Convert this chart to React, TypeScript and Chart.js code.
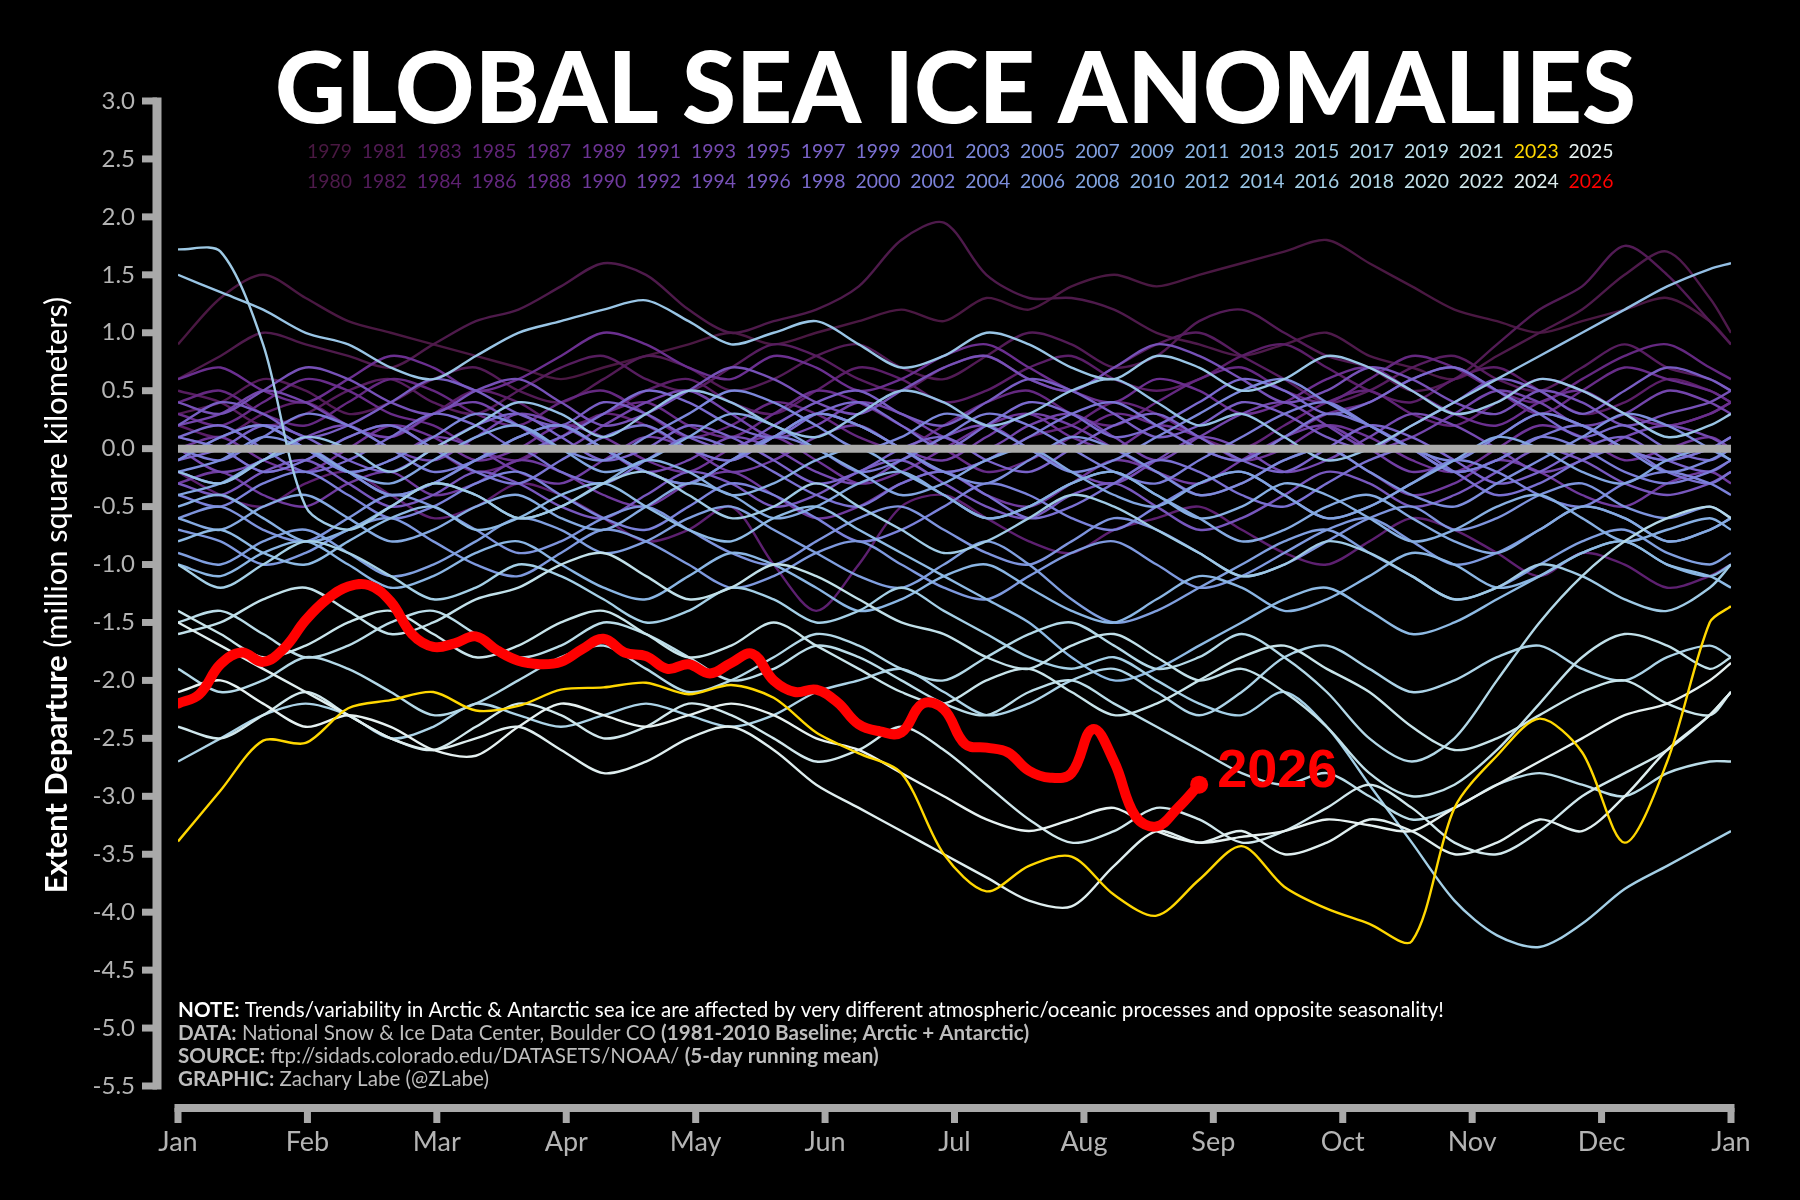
import React, { useEffect, useRef } from "react";
import { Chart, registerables } from "chart.js";

Chart.register(...registerables);

// ---------------- DATA ----------------
// month ticks are evenly spaced (12 equal parts of the 365-day year)
const monthTicks = [0, 30.42, 60.83, 91.25, 121.67, 152.08, 182.5, 212.92, 243.33, 273.75, 304.17, 334.58, 365];
const monthLabels = ["Jan", "Feb", "Mar", "Apr", "May", "Jun", "Jul", "Aug", "Sep", "Oct", "Nov", "Dec", "Jan"];
const yTickValues = [-5.5, -5.0, -4.5, -4.0, -3.5, -3.0, -2.5, -2.0, -1.5, -1.0, -0.5, 0.0, 0.5, 1.0, 1.5, 2.0, 2.5, 3.0];

// day-of-year sample positions for the climatology years (every 10 days)
const gridDays = [0, 10, 20, 30, 40, 50, 60, 70, 80, 90, 100, 110, 120, 130, 140, 150, 160, 170, 180, 190, 200, 210, 220, 230, 240, 250, 260, 270, 280, 290, 300, 310, 320, 330, 340, 350, 360, 365];
// day-of-year sample positions for 2026 (every 5 days, to Aug 28)
const days2026 = [0, 5, 10, 15, 20, 25, 30, 35, 40, 45, 50, 55, 60, 65, 70, 75, 80, 85, 90, 95, 100, 105, 110, 115, 120, 125, 130, 135, 140, 145, 150, 155, 160, 165, 170, 175, 180, 185, 190, 195, 200, 205, 210, 215, 220, 225, 230, 235, 240];

const y1979 = [0.9,1.3,1.5,1.3,1.1,1.0,0.9,0.8,0.7,0.6, 0.7,0.8,0.9,1.0,0.9,1.0,1.1,1.2,1.1,1.3, 1.2,1.4,1.5,1.4,1.5,1.6,1.7,1.8,1.6,1.4, 1.2,1.1,1.0,1.1,1.2,1.3,1.1,0.9];
const y1980 = [0.6,0.8,1.0,0.9,0.8,0.7,0.9,1.1,1.2,1.4, 1.6,1.5,1.2,1.0,1.1,1.2,1.4,1.8,1.95,1.5, 1.3,1.3,1.2,1.0,0.9,0.8,0.9,1.0,0.8,0.7, 0.6,0.8,1.0,1.2,1.5,1.7,1.3,1.0];
const y1981 = [0.3,0.4,0.6,0.5,0.3,0.4,0.6,0.7,0.5,0.4, 0.6,0.8,0.7,0.5,0.6,0.8,0.9,0.7,0.6,0.8, 1.0,0.9,0.7,0.8,1.1,1.2,1.0,0.8,0.7,0.5, 0.6,0.9,1.2,1.4,1.75,1.5,1.1,0.9];
const y1982 = [0.5,0.4,0.2,0.3,0.5,0.6,0.4,0.3,0.5,0.7, 0.8,0.6,0.5,0.7,0.9,0.8,0.6,0.5,0.7,0.8, 0.6,0.5,0.7,0.9,1.0,0.8,0.6,0.4,0.5,0.7, 0.8,0.6,0.5,0.7,0.9,0.7,0.6,0.5];
const y1983 = [0.2,0.1,0.3,0.4,0.2,0.1,0.3,0.5,0.4,0.2, 0.3,0.5,0.6,0.4,0.3,0.5,0.7,0.6,0.4,0.5, 0.7,0.8,0.6,0.5,0.6,0.8,0.9,0.7,0.5,0.4, 0.6,0.7,0.5,0.3,0.4,0.6,0.5,0.4];
const y1984 = [-0.2,-0.4,-0.5,-0.3,-0.2,-0.4,-0.6,-0.5,-0.3,-0.4, -0.6,-0.8,-0.7,-0.5,-1.0,-1.4,-1.0,-0.5,-0.4,-0.6, -0.8,-0.9,-0.7,-0.6,-0.5,-0.7,-0.9,-1.0,-0.8,-0.6, -0.7,-0.9,-1.1,-0.9,-1.0,-1.2,-1.1,-1.0];
const y1985 = [0.1,0.0,-0.2,-0.1,0.1,0.2,0.0,-0.2,-0.1,0.1, 0.3,0.2,0.0,-0.1,0.1,0.3,0.2,0.0,-0.2,-0.1, 0.1,0.2,0.4,0.3,0.1,0.0,0.2,0.4,0.5,0.3, 0.2,0.4,0.6,0.5,0.3,0.2,0.3,0.4];
const y1986 = [0.4,0.5,0.3,0.2,0.4,0.6,0.5,0.3,0.2,0.4, 0.5,0.3,0.1,0.2,0.4,0.3,0.1,0.0,0.2,0.4, 0.5,0.3,0.2,0.4,0.6,0.7,0.5,0.4,0.6,0.8, 0.7,0.5,0.4,0.6,0.8,0.9,0.7,0.6];
const y1987 = [0.3,0.2,0.4,0.6,0.5,0.3,0.2,0.0,-0.1,0.1, 0.3,0.4,0.2,0.1,0.3,0.5,0.4,0.2,0.0,-0.2, -0.1,0.1,0.3,0.2,0.0,-0.1,0.1,0.3,0.4,0.6, 0.7,0.5,0.3,0.5,0.7,0.6,0.5,0.4];
const y1988 = [0.6,0.7,0.5,0.4,0.6,0.8,0.7,0.5,0.6,0.8, 1.0,0.9,0.7,0.6,0.8,0.7,0.5,0.6,0.8,0.9, 0.7,0.5,0.4,0.6,0.5,0.3,0.4,0.6,0.7,0.5, 0.3,0.2,0.4,0.5,0.3,0.2,0.3,0.4];
const y1989 = [0.0,0.1,-0.1,-0.2,0.0,0.2,0.1,-0.1,0.0,0.2, 0.1,-0.1,-0.2,0.0,0.1,-0.1,-0.3,-0.2,0.0,0.2, 0.3,0.1,0.0,0.2,0.1,-0.1,0.0,0.2,0.1,-0.1, -0.2,0.0,0.2,0.1,-0.1,0.0,0.1,0.0];
const y1990 = [-0.3,-0.2,-0.4,-0.5,-0.3,-0.2,-0.4,-0.3,-0.1,-0.2, -0.4,-0.5,-0.3,-0.2,-0.4,-0.6,-0.5,-0.3,-0.2,-0.4, -0.5,-0.3,-0.1,-0.2,-0.4,-0.3,-0.1,0.0,-0.2,-0.4, -0.3,-0.1,-0.2,-0.4,-0.5,-0.3,-0.2,-0.3];
const y1991 = [-0.1,0.1,0.2,0.0,-0.2,-0.1,0.1,0.0,-0.2,-0.3, -0.1,0.1,0.0,-0.2,-0.1,0.1,0.2,0.0,-0.1,0.1, 0.3,0.2,0.0,-0.2,-0.3,-0.1,0.1,0.2,0.0,-0.2, -0.1,0.1,0.3,0.2,0.0,-0.1,0.0,0.1];
const y1992 = [0.2,0.3,0.5,0.4,0.2,0.1,0.3,0.4,0.2,0.0, 0.2,0.4,0.5,0.3,0.1,0.2,0.4,0.3,0.1,0.0, 0.2,0.3,0.1,-0.1,0.1,0.3,0.4,0.2,0.0,0.1, 0.3,0.5,0.4,0.2,0.3,0.5,0.4,0.3];
const y1993 = [0.0,-0.2,-0.1,0.1,0.2,0.0,-0.1,0.1,0.3,0.2, 0.0,-0.2,-0.1,0.1,0.0,-0.2,-0.3,-0.1,0.1,0.2, 0.0,-0.2,-0.3,-0.1,0.1,0.0,-0.2,-0.1,0.1,0.3, 0.2,0.0,-0.2,-0.1,0.1,0.2,0.1,0.0];
const y1994 = [0.4,0.3,0.5,0.7,0.6,0.4,0.3,0.5,0.6,0.4, 0.2,0.3,0.5,0.7,0.6,0.4,0.3,0.5,0.7,0.8, 0.6,0.5,0.7,0.9,0.8,0.6,0.4,0.5,0.7,0.6, 0.4,0.3,0.5,0.4,0.2,0.3,0.4,0.5];
const y1995 = [-0.3,-0.4,-0.2,-0.1,-0.3,-0.5,-0.4,-0.2,-0.3,-0.5, -0.6,-0.4,-0.2,-0.3,-0.5,-0.4,-0.2,-0.1,-0.3,-0.5, -0.6,-0.4,-0.3,-0.5,-0.7,-0.6,-0.4,-0.2,-0.3,-0.5, -0.4,-0.2,0.0,-0.1,-0.3,-0.4,-0.3,-0.2];
const y1996 = [0.2,0.4,0.3,0.1,0.2,0.4,0.6,0.5,0.3,0.2, 0.4,0.3,0.1,0.0,0.2,0.4,0.5,0.3,0.2,0.4, 0.6,0.5,0.3,0.1,0.2,0.4,0.3,0.1,0.0,0.2, 0.4,0.6,0.5,0.3,0.5,0.7,0.6,0.5];
const y1997 = [-0.1,0.0,0.2,0.1,-0.1,-0.2,0.0,0.2,0.3,0.1, -0.1,0.0,0.2,0.1,-0.1,-0.3,-0.2,0.0,0.1,-0.1, -0.2,0.0,0.2,0.3,0.1,-0.1,-0.2,0.0,0.2,0.1, -0.1,-0.3,-0.2,0.0,0.1,-0.1,-0.2,-0.1];
const y1998 = [0.1,0.2,0.0,-0.2,-0.1,0.1,0.3,0.2,0.0,0.1, 0.3,0.5,0.4,0.2,0.1,0.3,0.4,0.2,0.0,0.2, 0.4,0.3,0.1,0.2,0.4,0.6,0.5,0.3,0.4,0.6, 0.7,0.5,0.3,0.1,0.2,0.0,-0.1,0.0];
const y1999 = [-0.2,-0.3,-0.1,0.0,-0.2,-0.4,-0.3,-0.1,0.0,-0.2, -0.3,-0.1,0.1,0.0,-0.2,-0.4,-0.5,-0.3,-0.2,-0.4, -0.6,-0.5,-0.3,-0.1,-0.2,-0.4,-0.5,-0.3,-0.1,0.0, -0.2,-0.4,-0.3,-0.1,0.0,-0.2,-0.3,-0.2];
const y2000 = [0.1,0.0,-0.2,-0.1,0.1,0.2,0.0,-0.2,-0.3,-0.1, 0.1,0.2,0.0,-0.1,0.1,0.3,0.2,0.0,-0.2,-0.1, 0.1,0.3,0.4,0.2,0.0,-0.1,0.1,0.3,0.2,0.0, -0.2,-0.1,0.1,0.2,0.0,-0.1,0.0,0.1];
const y2001 = [0.0,-0.1,0.1,0.3,0.2,0.0,-0.2,-0.1,0.1,0.2, 0.0,-0.2,-0.3,-0.1,0.1,0.0,-0.2,-0.1,0.1,0.3, 0.2,0.0,-0.2,-0.3,-0.1,0.1,0.3,0.4,0.2,0.0, -0.2,-0.1,0.1,0.0,-0.2,-0.3,-0.2,-0.1];
const y2002 = [-0.4,-0.5,-0.3,-0.2,-0.4,-0.6,-0.5,-0.3,-0.2,-0.4, -0.6,-0.7,-0.5,-0.3,-0.4,-0.6,-0.8,-0.7,-0.5,-0.3, -0.4,-0.6,-0.7,-0.5,-0.3,-0.2,-0.4,-0.6,-0.5,-0.3, -0.1,-0.2,-0.4,-0.5,-0.3,-0.2,-0.3,-0.4];
const y2003 = [-0.1,0.1,0.2,0.0,-0.2,-0.1,0.1,0.3,0.2,0.0, -0.1,0.1,0.3,0.5,0.4,0.2,0.0,0.1,0.3,0.2, 0.0,-0.2,-0.1,0.1,0.3,0.5,0.6,0.4,0.2,0.0, -0.1,0.1,0.3,0.2,0.0,-0.2,-0.1,0.0];
const y2004 = [-0.2,-0.1,0.1,0.0,-0.2,-0.4,-0.3,-0.1,0.1,0.2, 0.0,-0.2,-0.3,-0.1,0.1,0.3,0.2,0.0,-0.2,-0.3, -0.1,0.1,0.0,-0.2,-0.4,-0.3,-0.1,0.0,-0.2,-0.4, -0.5,-0.3,-0.1,0.1,0.3,0.2,0.0,-0.1];
const y2005 = [-0.6,-0.5,-0.7,-0.8,-0.6,-0.4,-0.5,-0.7,-0.9,-0.8, -0.6,-0.5,-0.7,-0.9,-1.0,-0.8,-0.6,-0.5,-0.7,-0.9, -1.0,-0.8,-0.6,-0.7,-0.9,-1.1,-1.0,-0.8,-0.6,-0.5, -0.7,-0.6,-0.4,-0.3,-0.5,-0.6,-0.5,-0.6];
const y2006 = [-0.7,-0.8,-1.0,-0.9,-0.7,-0.6,-0.8,-1.0,-1.1,-0.9, -0.7,-0.8,-1.0,-1.2,-1.1,-0.9,-0.8,-1.0,-1.2,-1.3, -1.1,-0.9,-0.8,-1.0,-1.2,-1.1,-0.9,-0.7,-0.6,-0.8, -1.0,-0.9,-0.7,-0.5,-0.6,-0.8,-0.7,-0.6];
const y2007 = [-0.9,-1.0,-0.8,-0.7,-0.9,-1.1,-1.0,-0.8,-0.6,-0.7, -0.9,-0.8,-0.6,-0.5,-0.7,-0.9,-1.1,-1.2,-1.0,-0.8, -1.0,-1.3,-1.5,-1.4,-1.2,-1.0,-0.8,-0.7,-0.9,-1.1, -1.3,-1.2,-1.0,-0.8,-0.7,-0.9,-1.0,-0.9];
const y2008 = [-0.4,-0.3,-0.1,0.0,-0.2,-0.3,-0.1,0.1,0.2,0.0, -0.2,-0.1,0.1,0.3,0.2,0.0,-0.2,-0.4,-0.3,-0.1, 0.0,-0.2,-0.4,-0.5,-0.3,-0.2,-0.4,-0.6,-0.5,-0.3, -0.1,0.1,0.0,-0.2,-0.3,-0.1,0.0,-0.1];
const y2009 = [-0.6,-0.7,-0.5,-0.4,-0.6,-0.8,-0.7,-0.5,-0.4,-0.6, -0.7,-0.5,-0.3,-0.4,-0.6,-0.5,-0.3,-0.2,-0.4,-0.6, -0.5,-0.3,-0.2,-0.4,-0.6,-0.8,-0.7,-0.5,-0.4,-0.6, -0.8,-0.9,-0.7,-0.5,-0.6,-0.8,-0.7,-0.6];
const y2010 = [-0.5,-0.4,-0.6,-0.8,-0.7,-0.5,-0.3,-0.4,-0.6,-0.5, -0.3,-0.1,-0.2,-0.4,-0.3,-0.1,0.0,-0.2,-0.4,-0.6, -0.5,-0.3,-0.2,-0.4,-0.6,-0.5,-0.3,-0.4,-0.6,-0.8, -0.7,-0.5,-0.4,-0.6,-0.8,-0.7,-0.6,-0.7];
const y2011 = [-1.0,-1.1,-0.9,-0.8,-1.0,-1.2,-1.1,-0.9,-0.8,-1.0, -1.2,-1.3,-1.1,-0.9,-1.0,-1.2,-1.4,-1.3,-1.1,-1.0, -1.2,-1.4,-1.5,-1.3,-1.1,-1.2,-1.4,-1.3,-1.1,-0.9, -1.0,-1.2,-1.1,-0.9,-0.8,-1.0,-1.1,-1.0];
const y2012 = [-0.8,-0.7,-0.9,-1.0,-0.8,-0.6,-0.5,-0.7,-0.6,-0.4, -0.3,-0.5,-0.7,-0.8,-0.6,-0.5,-0.7,-0.9,-1.1,-1.3, -1.5,-1.8,-2.0,-1.9,-1.7,-1.5,-1.3,-1.2,-1.4,-1.6, -1.5,-1.3,-1.1,-0.9,-0.8,-1.0,-1.1,-1.2];
const y2013 = [-0.2,-0.3,-0.1,0.1,0.0,-0.2,0.0,0.2,0.4,0.3, 0.1,0.3,0.5,0.4,0.2,0.1,0.3,0.5,0.4,0.2, 0.3,0.5,0.6,0.4,0.2,0.3,0.1,-0.1,0.0,0.2, 0.4,0.6,0.8,1.0,1.2,1.4,1.55,1.6];
const y2014 = [1.5,1.35,1.2,1.0,0.9,0.7,0.6,0.8,1.0,1.1, 1.2,1.28,1.1,0.9,1.0,1.1,0.9,0.7,0.8,1.0, 0.9,0.7,0.6,0.8,0.7,0.5,0.6,0.8,0.7,0.5, 0.3,0.4,0.6,0.5,0.3,0.1,0.2,0.3];
const y2015 = [1.72,1.7,0.9,-0.5,-0.7,-0.5,-0.3,-0.4,-0.6,-0.5, -0.3,-0.2,-0.4,-0.6,-0.5,-0.3,-0.5,-0.7,-0.9,-0.8, -0.6,-0.4,-0.5,-0.7,-0.9,-1.1,-1.0,-0.8,-0.9,-1.1, -1.3,-1.2,-1.0,-1.1,-1.3,-1.4,-1.2,-1.0];
const y2016 = [-1.0,-1.2,-1.0,-0.8,-0.9,-1.1,-1.3,-1.2,-1.0,-1.1, -1.3,-1.5,-1.4,-1.2,-1.3,-1.5,-1.4,-1.2,-1.4,-1.6, -1.8,-1.9,-1.8,-2.0,-2.2,-2.3,-2.1,-2.4,-2.9,-3.4, -3.9,-4.2,-4.3,-4.1,-3.8,-3.6,-3.4,-3.3];
const y2017 = [-2.7,-2.5,-2.3,-2.2,-2.3,-2.5,-2.4,-2.2,-2.3,-2.4, -2.3,-2.2,-2.3,-2.4,-2.3,-2.1,-2.0,-1.9,-2.1,-2.3, -2.2,-2.0,-1.9,-2.1,-2.3,-2.1,-1.8,-1.7,-1.9,-2.1, -2.0,-1.8,-1.7,-1.9,-2.0,-1.8,-1.7,-1.8];
const y2018 = [-1.9,-2.1,-2.0,-1.8,-1.9,-2.1,-2.3,-2.2,-2.0,-1.8, -1.7,-1.9,-2.1,-2.0,-1.8,-1.6,-1.7,-1.9,-2.0,-1.8, -1.6,-1.5,-1.7,-1.9,-1.8,-1.6,-1.8,-2.1,-2.5,-2.7, -2.5,-2.0,-1.5,-1.1,-0.8,-0.6,-0.5,-0.6];
const y2019 = [-1.5,-1.4,-1.6,-1.8,-1.7,-1.5,-1.4,-1.6,-1.8,-1.7, -1.5,-1.6,-1.8,-2.0,-1.9,-1.7,-1.8,-2.0,-2.2,-2.3, -2.1,-2.0,-2.2,-2.4,-2.6,-2.8,-2.9,-2.8,-3.0,-3.2, -3.1,-2.9,-2.8,-2.9,-3.0,-2.8,-2.7,-2.7];
const y2020 = [-1.6,-1.5,-1.3,-1.2,-1.4,-1.6,-1.5,-1.3,-1.2,-1.0, -0.9,-1.1,-1.3,-1.2,-1.0,-1.1,-1.3,-1.5,-1.6,-1.8, -1.9,-1.7,-1.6,-1.8,-2.0,-1.9,-2.1,-2.4,-2.8,-3.0, -2.9,-2.6,-2.2,-1.8,-1.6,-1.7,-1.9,-1.8];
const y2021 = [-1.4,-1.6,-1.8,-1.7,-1.5,-1.4,-1.6,-1.8,-1.7,-1.5, -1.4,-1.6,-1.8,-1.7,-1.5,-1.7,-1.9,-2.1,-2.2,-2.0, -1.9,-2.1,-2.3,-2.2,-2.0,-1.8,-1.7,-1.9,-2.1,-2.4, -2.6,-2.5,-2.3,-2.1,-2.0,-2.2,-2.3,-2.1];
const y2022 = [-2.4,-2.5,-2.3,-2.1,-2.3,-2.5,-2.6,-2.4,-2.2,-2.3, -2.5,-2.4,-2.2,-2.3,-2.5,-2.7,-2.6,-2.4,-2.6,-2.9, -3.2,-3.4,-3.3,-3.1,-3.2,-3.4,-3.3,-3.1,-2.9,-3.1, -3.4,-3.5,-3.3,-3.0,-2.8,-2.6,-2.3,-2.1];
const y2023 = [-3.39,-2.95,-2.52,-2.54,-2.24,-2.17,-2.10,-2.26,-2.22,-2.08, -2.06,-2.02,-2.12,-2.04,-2.15,-2.45,-2.63,-2.80,-3.50,-3.82, -3.60,-3.52,-3.85,-4.03,-3.72,-3.43,-3.78,-3.97,-4.10,-4.25, -3.10,-2.65,-2.33,-2.62,-3.40,-2.70,-1.50,-1.36];
const y2024 = [-1.5,-1.7,-1.9,-2.1,-2.3,-2.5,-2.6,-2.5,-2.4,-2.6, -2.8,-2.7,-2.5,-2.4,-2.6,-2.9,-3.1,-3.3,-3.5,-3.7, -3.9,-3.95,-3.6,-3.3,-3.4,-3.3,-3.5,-3.4,-3.2,-3.3, -3.5,-3.4,-3.2,-3.3,-3.0,-2.6,-2.3,-2.1];
const y2025 = [-2.1,-2.0,-2.2,-2.4,-2.3,-2.4,-2.6,-2.65,-2.4,-2.2, -2.3,-2.4,-2.3,-2.2,-2.3,-2.5,-2.6,-2.8,-3.0,-3.2, -3.3,-3.2,-3.1,-3.3,-3.4,-3.35,-3.3,-3.2,-3.25,-3.3, -3.1,-2.9,-2.7,-2.5,-2.3,-2.2,-2.0,-1.85];
const y2026 = [-2.20,-2.12,-1.86,-1.76,-1.84,-1.72,-1.48,-1.30,-1.19,-1.18, -1.32,-1.60,-1.71,-1.68,-1.62,-1.74,-1.83,-1.86,-1.84,-1.73, -1.64,-1.76,-1.79,-1.90,-1.86,-1.94,-1.85,-1.77,-2.00,-2.10, -2.08,-2.19,-2.38,-2.44,-2.45,-2.20,-2.25,-2.55,-2.58,-2.62, -2.78,-2.84,-2.80,-2.42,-2.70,-3.17,-3.26,-3.10,-2.90];

const climatologyYears: [number, number[]][] = [
  [1979, y1979], [1980, y1980], [1981, y1981], [1982, y1982], [1983, y1983], [1984, y1984],
  [1985, y1985], [1986, y1986], [1987, y1987], [1988, y1988], [1989, y1989], [1990, y1990],
  [1991, y1991], [1992, y1992], [1993, y1993], [1994, y1994], [1995, y1995], [1996, y1996],
  [1997, y1997], [1998, y1998], [1999, y1999], [2000, y2000], [2001, y2001], [2002, y2002],
  [2003, y2003], [2004, y2004], [2005, y2005], [2006, y2006], [2007, y2007], [2008, y2008],
  [2009, y2009], [2010, y2010], [2011, y2011], [2012, y2012], [2013, y2013], [2014, y2014],
  [2015, y2015], [2016, y2016], [2017, y2017], [2018, y2018], [2019, y2019], [2020, y2020],
  [2021, y2021], [2022, y2022], [2024, y2024], [2025, y2025],
];

const legendYearsTop = [1979, 1981, 1983, 1985, 1987, 1989, 1991, 1993, 1995, 1997, 1999, 2001, 2003, 2005, 2007, 2009, 2011, 2013, 2015, 2017, 2019, 2021, 2023, 2025];
const legendYearsBottom = [1980, 1982, 1984, 1986, 1988, 1990, 1992, 1994, 1996, 1998, 2000, 2002, 2004, 2006, 2008, 2010, 2012, 2014, 2016, 2018, 2020, 2022, 2024, 2026];

// ---------------- STYLE ----------------
const FONT = "Lato, 'DejaVu Sans', sans-serif";
const AXIS_GRAY = "#a9a9a9";
const TICK_TEXT = "#b4b4b4";
const YELLOW = "#ffd700";
const RED = "#ff0000";

const DENSE_STOPS: number[][] = [
  [0.0, 230, 241, 241],
  [0.1, 196, 226, 233],
  [0.2, 163, 206, 230],
  [0.3, 138, 182, 227],
  [0.4, 127, 157, 223],
  [0.5, 123, 130, 218],
  [0.6, 122, 102, 204],
  [0.7, 117, 73, 176],
  [0.8, 107, 48, 145],
  [0.9, 92, 31, 109],
  [1.0, 74, 24, 66],
];

function denseColor(t: number): string {
  const tt = Math.max(0, Math.min(1, t));
  for (let i = 0; i < DENSE_STOPS.length - 1; i++) {
    const a = DENSE_STOPS[i];
    const b = DENSE_STOPS[i + 1];
    if (tt >= a[0] && tt <= b[0]) {
      const f = (tt - a[0]) / (b[0] - a[0]);
      const r = Math.round(a[1] + (b[1] - a[1]) * f);
      const g = Math.round(a[2] + (b[2] - a[2]) * f);
      const bl = Math.round(a[3] + (b[3] - a[3]) * f);
      return `rgb(${r},${g},${bl})`;
    }
  }
  return "#fff";
}

function yearColor(year: number): string {
  if (year === 2023) return YELLOW;
  if (year === 2026) return RED;
  return denseColor((2025 - year) / 46);
}

const toPoints = (days: number[], vals: number[]) => vals.map((v, i) => ({ x: days[i], y: v }));

type Run = { t: string; b: boolean };

function runsWidth(ctx: CanvasRenderingContext2D, runs: Run[], size: number) {
  let w = 0;
  for (const r of runs) {
    ctx.font = `${r.b ? "bold" : "normal"} ${size}px ${FONT}`;
    w += ctx.measureText(r.t).width;
  }
  return w;
}

function drawRuns(ctx: CanvasRenderingContext2D, runs: Run[], x: number, y: number, size: number, color: string) {
  let cx = x;
  ctx.fillStyle = color;
  for (const r of runs) {
    ctx.font = `${r.b ? "bold" : "normal"} ${size}px ${FONT}`;
    ctx.fillText(r.t, cx, y);
    cx += ctx.measureText(r.t).width;
  }
}

const noteLines: { runs: Run[]; color: string }[] = [
  { runs: [{ t: "NOTE:", b: true }, { t: " Trends/variability in Arctic & Antarctic sea ice are affected by very different atmospheric/oceanic processes and opposite seasonality!", b: false }], color: "#ffffff" },
  { runs: [{ t: "DATA:", b: true }, { t: " National Snow & Ice Data Center, Boulder CO ", b: false }, { t: "(1981-2010 Baseline; Arctic + Antarctic)", b: true }], color: "#bdbdbd" },
  { runs: [{ t: "SOURCE:", b: true }, { t: " ftp://sidads.colorado.edu/DATASETS/NOAA/ ", b: false }, { t: "(5-day running mean)", b: true }], color: "#bdbdbd" },
  { runs: [{ t: "GRAPHIC:", b: true }, { t: " Zachary Labe (@ZLabe)", b: false }], color: "#bdbdbd" },
];

const decorPlugin = {
  id: "decor",
  beforeDraw(chart: any) {
    const ctx = chart.ctx as CanvasRenderingContext2D;
    ctx.save();
    ctx.fillStyle = "#000";
    ctx.fillRect(0, 0, chart.width, chart.height);
    ctx.restore();
  },
  afterDraw(chart: any) {
    const ctx = chart.ctx as CanvasRenderingContext2D;
    const xs = chart.scales.x;
    const ys = chart.scales.y;
    const area = chart.chartArea;
    ctx.save();

    // ---- offset spines ----
    const spineX = area.left - 21;
    const spineY = area.bottom + 22;
    ctx.strokeStyle = AXIS_GRAY;
    ctx.lineCap = "butt";
    ctx.lineWidth = 9;
    ctx.beginPath();
    ctx.moveTo(spineX, ys.getPixelForValue(3) - 3.5);
    ctx.lineTo(spineX, ys.getPixelForValue(-5.5) + 3.5);
    ctx.stroke();
    ctx.lineWidth = 7;
    for (const v of yTickValues) {
      const py = ys.getPixelForValue(v);
      ctx.beginPath();
      ctx.moveTo(spineX - 15, py);
      ctx.lineTo(spineX, py);
      ctx.stroke();
    }
    ctx.lineWidth = 8;
    ctx.beginPath();
    ctx.moveTo(xs.getPixelForValue(0) - 3.5, spineY);
    ctx.lineTo(xs.getPixelForValue(365) + 3.5, spineY);
    ctx.stroke();
    ctx.lineWidth = 7;
    for (const d of monthTicks) {
      const px = xs.getPixelForValue(d);
      ctx.beginPath();
      ctx.moveTo(px, spineY);
      ctx.lineTo(px, spineY + 15);
      ctx.stroke();
    }

    // ---- title ----
    const title = "GLOBAL SEA ICE ANOMALIES";
    ctx.font = `900 100px ${FONT}`;
    const tw = ctx.measureText(title).width;
    ctx.save();
    ctx.translate(275, 123);
    ctx.scale(1361 / tw, 1.0);
    ctx.fillStyle = "#ffffff";
    ctx.textBaseline = "alphabetic";
    ctx.textAlign = "left";
    ctx.fillText(title, 0, 0);
    ctx.restore();

    // ---- year legend ----
    ctx.font = `normal 100px ${FONT}`;
    const legSize = (100 * 45) / ctx.measureText("1979").width;
    ctx.font = `normal ${legSize}px ${FONT}`;
    ctx.textBaseline = "alphabetic";
    ctx.textAlign = "left";
    legendYearsTop.forEach((yr, i) => {
      ctx.fillStyle = yearColor(yr);
      ctx.fillText(String(yr), 307 + i * 54.85, 158);
    });
    legendYearsBottom.forEach((yr, i) => {
      ctx.fillStyle = yearColor(yr);
      ctx.fillText(String(yr), 307 + i * 54.85, 188);
    });

    // ---- y axis title ----
    const yRuns: Run[] = [{ t: "Extent Departure ", b: true }, { t: "(million square kilometers)", b: false }];
    const ySize = (100 * 597) / runsWidth(ctx, yRuns, 100);
    const yW = runsWidth(ctx, yRuns, ySize);
    ctx.save();
    ctx.translate(57, 595);
    ctx.rotate(-Math.PI / 2);
    ctx.textBaseline = "middle";
    drawRuns(ctx, yRuns, -yW / 2, 0, ySize, "#ffffff");
    ctx.restore();

    // ---- notes ----
    const nSize = (100 * 1266) / runsWidth(ctx, noteLines[0].runs, 100);
    ctx.textBaseline = "alphabetic";
    noteLines.forEach((ln, i) => {
      drawRuns(ctx, ln.runs, 178, 1017 + i * 23, nSize, ln.color);
    });

    // ---- 2026 label ----
    const lastI = y2026.length - 1;
    const lx = xs.getPixelForValue(days2026[lastI]);
    const ly = ys.getPixelForValue(y2026[lastI]);
    ctx.font = `bold 54px 'Liberation Sans', Arial, sans-serif`;
    ctx.fillStyle = RED;
    ctx.textBaseline = "alphabetic";
    ctx.textAlign = "left";
    ctx.fillText("2026", lx + 18, ly + 2);

    ctx.restore();
  },
};

export default function App() {
  const canvasRef = useRef<HTMLCanvasElement | null>(null);

  useEffect(() => {
    document.body.style.margin = "0";
    document.body.style.background = "#000";
    const canvas = canvasRef.current;
    if (!canvas) return;

    const background = climatologyYears
      .slice()
      .reverse()
      .map(([yr, vals]) => ({
        label: String(yr),
        data: toPoints(gridDays, vals),
        borderColor: yearColor(yr),
        borderWidth: 2.4,
        tension: 0.3,
        pointRadius: 0,
        fill: false,
      }));

    const datasets: any[] = [
      {
        label: "2026",
        data: toPoints(days2026, y2026),
        borderColor: RED,
        backgroundColor: RED,
        borderWidth: 10,
        tension: 0.4,
        borderCapStyle: "round",
        borderJoinStyle: "round",
        pointRadius: (c: any) => (c.dataIndex === y2026.length - 1 ? 9 : 0),
        pointBackgroundColor: RED,
        pointBorderWidth: 0,
        fill: false,
      },
      {
        label: "2023",
        data: toPoints(gridDays, y2023),
        borderColor: YELLOW,
        borderWidth: 2.4,
        tension: 0.3,
        pointRadius: 0,
        fill: false,
      },
      {
        label: "zero",
        data: [{ x: 0, y: 0 }, { x: 365, y: 0 }],
        borderColor: "#aaaaaa",
        borderWidth: 8,
        tension: 0,
        pointRadius: 0,
        fill: false,
      },
      ...background,
    ];

    const chart = new Chart(canvas, {
      type: "line",
      data: { datasets },
      options: {
        responsive: false,
        animation: false,
        devicePixelRatio: 1,
        events: [],
        layout: { padding: { top: 101, right: 69, left: 0, bottom: 0 } },
        plugins: {
          legend: { display: false },
          tooltip: { enabled: false },
          title: { display: false },
        },
        scales: {
          x: {
            type: "linear",
            min: 0,
            max: 365,
            grid: { display: false, drawTicks: false },
            border: { display: false },
            afterBuildTicks: (s: any) => {
              s.ticks = monthTicks.map((v) => ({ value: v }));
            },
            afterFit: (s: any) => {
              s.height = 114;
            },
            ticks: {
              autoSkip: false,
              maxRotation: 0,
              minRotation: 0,
              padding: 40,
              color: TICK_TEXT,
              font: { family: FONT, size: 27 },
              callback: (_v: any, i: number) => monthLabels[i],
            },
          },
          y: {
            type: "linear",
            min: -5.5,
            max: 3,
            grid: { display: false, drawTicks: false },
            border: { display: false },
            afterBuildTicks: (s: any) => {
              s.ticks = yTickValues.map((v) => ({ value: v }));
            },
            afterFit: (s: any) => {
              s.width = 178;
            },
            ticks: {
              autoSkip: false,
              padding: 43,
              color: TICK_TEXT,
              font: { family: FONT, size: 24 },
              callback: (v: any) => Number(v).toFixed(1),
            },
          },
        },
      } as any,
      plugins: [decorPlugin],
    });

    return () => chart.destroy();
  }, []);

  return (
    <div style={{ width: 1800, height: 1200, background: "#000" }}>
      <canvas ref={canvasRef} width={1800} height={1200} style={{ display: "block" }} />
    </div>
  );
}
